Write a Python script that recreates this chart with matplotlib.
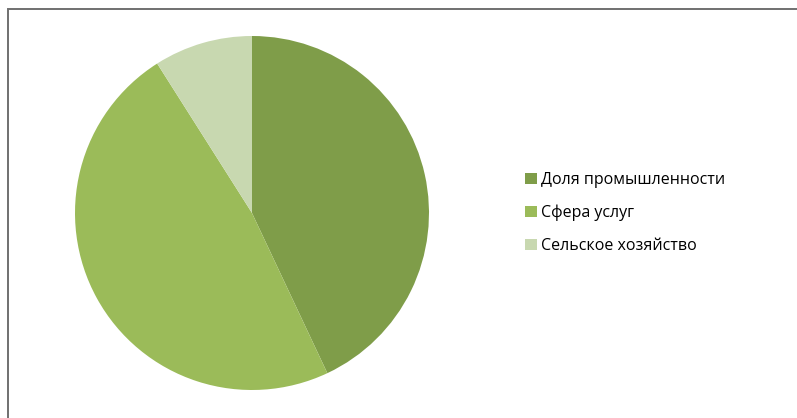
import matplotlib.pyplot as plt
from matplotlib.patches import Patch, Rectangle

labels = ["Доля промышленности", "Сфера услуг", "Сельское хозяйство"]
shares = [43, 48, 9]
colors = ["#7F9D49", "#9BBB59", "#C8D8B0"]

plt.rcParams["font.family"] = ["Open Sans", "DejaVu Sans"]

fig = plt.figure(figsize=(7.97, 4.18), dpi=100)

# chart-area frame (only top and left edges fall inside the image)
fig.patches.append(
    Rectangle((8 / 797, -0.1), 1.0, 1 - 9 / 418 + 0.1,
              transform=fig.transFigure, fill=False,
              edgecolor="#707070", linewidth=1.4)
)

cx, cy, r = 252 / 797, 1 - 213 / 418, 177
ax = fig.add_axes([cx - r / 797, cy - r / 418, 2 * r / 797, 2 * r / 418])
ax.pie(shares, colors=colors, startangle=90, counterclock=False,
       wedgeprops=dict(linewidth=0))
ax.set_aspect("auto")
ax.set_xlim(-1, 1)
ax.set_ylim(-1, 1)

handles = [Patch(facecolor=c, edgecolor="none") for c in colors]
fig.legend(handles, labels, loc="center left",
           bbox_to_anchor=(511 / 797, 1 - 213 / 418), frameon=False,
           fontsize=11.5, handlelength=0.7, handleheight=0.7,
           handletextpad=0.25, labelspacing=1.05)

fig.savefig("out.png", dpi=100)
